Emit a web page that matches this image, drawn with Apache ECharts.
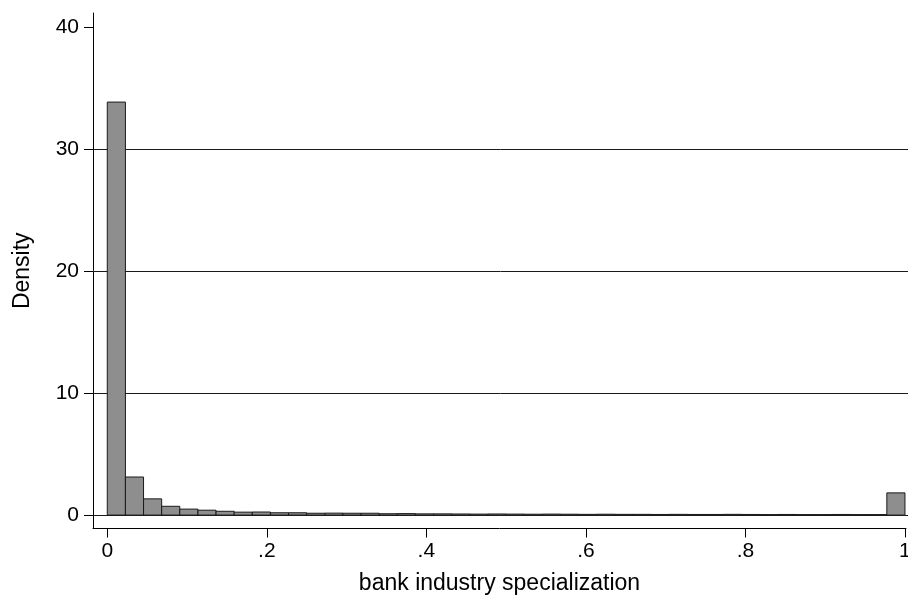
<!DOCTYPE html>
<html>
<head>
<meta charset="utf-8">
<script src="https://cdn.jsdelivr.net/npm/echarts@6/dist/echarts.min.js"></script>
<style>
html,body{margin:0;padding:0;background:#fff;overflow:hidden;}
#chart{width:908px;height:595px;}
</style>
</head>
<body>
<div id="chart"></div>
<script>
// Histogram: 44 equal-width bins over [0, 1]
const binCount = 44;
const binLow = 0;
const binHigh = 1;
const densities = [
  33.85, 3.12, 1.33, 0.72, 0.49, 0.40, 0.31, 0.24, 0.25, 0.19,
  0.19, 0.15, 0.16, 0.15, 0.15, 0.11, 0.12, 0.10, 0.10, 0.09,
  0.08, 0.09, 0.08, 0.07, 0.08, 0.07, 0.06, 0.07, 0.06, 0.06,
  0.05, 0.06, 0.05, 0.05, 0.06, 0.05, 0.04, 0.05, 0.04, 0.04,
  0.05, 0.04, 0.04, 1.82
];
const xTicks = [0, 0.2, 0.4, 0.6, 0.8, 1];
const yTicks = [0, 10, 20, 30, 40];
const yGridValues = [0, 10, 20, 30];
const xTitle = 'bank industry specialization';
const yTitle = 'Density';

// axis extents (Stata pads the plot region around the data range)
const xMin = -0.0179, xMax = 1.0013;
const yMin = -1.1, yMax = 41.15;

const binWidth = (binHigh - binLow) / binCount;
const histData = densities.map((d, i) => [binLow + i * binWidth, binLow + (i + 1) * binWidth, d]);

const FONT = '"Liberation Sans", Arial, Helvetica, sans-serif';

const chart = echarts.init(document.getElementById('chart'), null, {renderer: 'canvas'});
chart.setOption({
  animation: false,
  backgroundColor: '#ffffff',
  grid: {left: 93, right: 2, top: 13, bottom: 66.5, containLabel: false, outerBoundsMode: 'none'},
  xAxis: {
    type: 'value',
    min: xMin, max: xMax,
    name: xTitle,
    nameLocation: 'middle',
    nameGap: 44,
    nameTextStyle: {fontSize: 23, color: '#000', fontFamily: FONT},
    axisLine: {show: true, onZero: false, lineStyle: {color: '#000', width: 1}},
    axisTick: {show: true, customValues: xTicks, length: 9, lineStyle: {color: '#000', width: 1}},
    axisLabel: {
      customValues: xTicks, margin: 12, fontSize: 21, color: '#000', fontFamily: FONT,
      hideOverlap: false,
      formatter: v => v === 0 ? '0' : (v === 1 ? '1' : String(+v.toFixed(2)).replace(/^0/, ''))
    },
    splitLine: {show: false}
  },
  yAxis: {
    type: 'value',
    min: yMin, max: yMax,
    name: yTitle,
    nameLocation: 'middle',
    nameGap: 59,
    nameTextStyle: {fontSize: 23, color: '#000', fontFamily: FONT},
    axisLine: {show: true, onZero: false, lineStyle: {color: '#000', width: 1}},
    axisTick: {show: true, customValues: yTicks, length: 9, lineStyle: {color: '#000', width: 1}},
    axisLabel: {customValues: yTicks, margin: 14, fontSize: 21, color: '#000', fontFamily: FONT},
    splitLine: {show: false}
  },
  series: [
    {
      type: 'custom',
      z: 1,
      silent: true,
      data: yGridValues.map(v => [v]),
      renderItem: function (params, api) {
        const v = api.value(0);
        const p1 = api.coord([xMin, v]);
        const p2 = api.coord([xMax, v]);
        return {
          type: 'line',
          shape: {x1: p1[0], y1: Math.round(p1[1]) + 0.5, x2: p2[0] + 2, y2: Math.round(p2[1]) + 0.5},
          style: {stroke: '#1a1a1a', lineWidth: 1}
        };
      }
    },
    {
      type: 'custom',
      z: 2,
      data: histData,
      encode: {x: [0, 1], y: 2},
      renderItem: function (params, api) {
        const a = api.coord([api.value(0), api.value(2)]);
        const b = api.coord([api.value(1), 0]);
        return {
          type: 'rect',
          shape: {x: a[0], y: a[1], width: b[0] - a[0], height: b[1] - a[1]},
          style: {fill: '#8e8e8e', stroke: '#1a1a1a', lineWidth: 1}
        };
      }
    }
  ]
});
</script>
</body>
</html>
